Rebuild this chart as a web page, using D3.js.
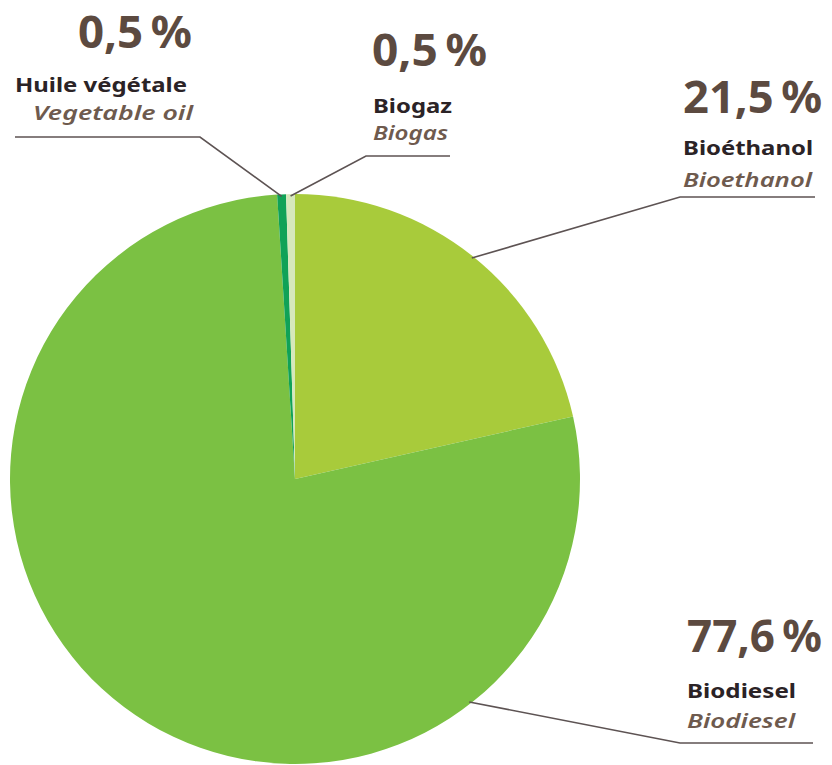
<!DOCTYPE html>
<html>
<head>
<meta charset="utf-8">
<script src="https://cdn.jsdelivr.net/npm/d3@7"></script>
<style>
  html, body { margin: 0; padding: 0; background: #fff; }
  svg { display: block; }
  .pct { font-family: "Noto Sans", "Open Sans", sans-serif; font-weight: 700; fill: #5c4a40; }
  .name { font-family: "Noto Sans", "Open Sans", sans-serif; font-weight: 700; fill: #2b2326; }
  .en { font-family: "Noto Sans", "Open Sans", sans-serif; font-weight: 600; font-style: italic; fill: #6e5a4e; }
</style>
</head>
<body>
<svg id="chart"></svg>
<script>
// chart values, clockwise from 12 o'clock
var categories = ["Bioéthanol", "Biodiesel", "Huile végétale", "Biogaz"];
var categoriesEn = ["Bioethanol", "Biodiesel", "Vegetable oil", "Biogas"];
var shares = [21.5, 77.6, 0.5, 0.5];

var colors = ["#a8cb3b", "#7bc143", "#10a257", "#d6e8bb"];

var width = 832,
    height = 765,
    cx = 295,
    cy = 479,
    radius = 285;

// where each label block sits, and how its leader line runs
var labelLayout = {
    "Bioéthanol":     { anchor: "start", x: [683, 683, 683], y: [113, 155, 187], w: [139, 130, 129], angle: null, elbow: [680, 197], end: 815 },
    "Biodiesel":      { anchor: "start", x: [687, 687, 687], y: [652, 698, 728], w: [135, 109, 108], angle: 142, elbow: [680, 743], end: 813 },
    "Huile végétale": { anchor: "end",   x: [192, 187, 193], y: [48, 92, 120],   w: [114, 172, 160], angle: null, elbow: [200, 137], end: 15 },
    "Biogaz":         { anchor: "start", x: [372, 373, 373], y: [66, 113, 140],  w: [115, 79, 75],   angle: null, elbow: [366, 156], end: 450 }
};

var locale = d3.formatLocale({ decimal: ",", thousands: " ", grouping: [3], currency: ["", "€"] });
var fmt = locale.format(".1f");

var svg = d3.select("#chart")
    .attr("width", width)
    .attr("height", height);

var pie = d3.pie().sort(null).value(function(d) { return d; });
var arcs = pie(shares);

var arc = d3.arc().innerRadius(0).outerRadius(radius);

var g = svg.append("g").attr("transform", "translate(" + cx + "," + cy + ")");

g.selectAll("path")
    .data(arcs)
    .enter().append("path")
    .attr("d", arc)
    .attr("fill", function(d, i) { return colors[i]; });

var pointAt = function(angleDeg, r) {
    var a = angleDeg * Math.PI / 180;
    return [cx + r * Math.sin(a), cy - r * Math.cos(a)];
};

var lines = svg.append("g");
var labels = svg.append("g");

arcs.forEach(function(d, i) {
    var lay = labelLayout[categories[i]];
    var midDeg = (d.startAngle + d.endAngle) / 2 * 180 / Math.PI;
    var start = pointAt(lay.angle == null ? midDeg : lay.angle, radius - 2);

    lines.append("polyline")
        .attr("points", [start, lay.elbow, [lay.end, lay.elbow[1]]].map(function(p) { return p.join(","); }).join(" "))
        .attr("fill", "none")
        .attr("stroke", "#5d5353")
        .attr("stroke-width", 1.6);

    var texts = [fmt(shares[i]) + "\u2009%", categories[i], categoriesEn[i]];
    var classes = ["pct", "name", "en"];
    var sizes = [45, 20, 20];

    texts.forEach(function(t, k) {
        labels.append("text")
            .attr("class", classes[k])
            .attr("x", lay.x[k])
            .attr("y", lay.y[k])
            .attr("text-anchor", lay.anchor)
            .attr("font-size", sizes[k])
            .attr("textLength", lay.w[k])
            .attr("lengthAdjust", "spacingAndGlyphs")
            .text(t);
    });
});
</script>
</body>
</html>
